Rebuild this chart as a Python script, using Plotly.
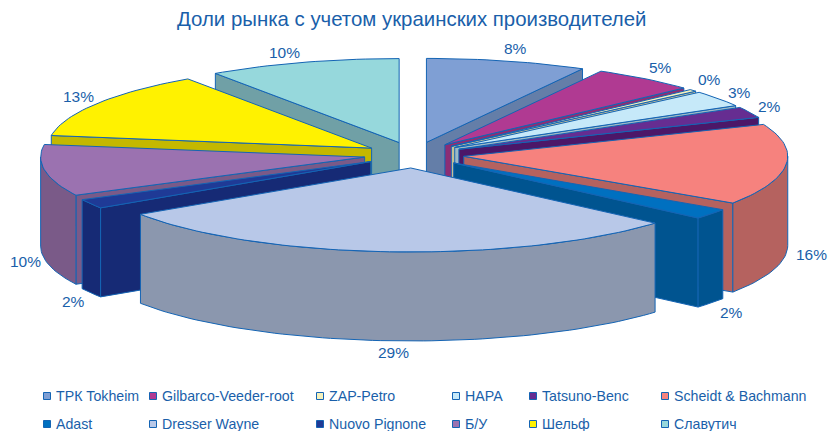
import math
import plotly.graph_objects as go

title = "Доли рынка с учетом украинских производителей"
categories = ["ТРК Tokheim", "Gilbarco-Veeder-root", "ZAP-Petro", "НАРА", "Tatsuno-Benc",
              "Scheidt & Bachmann", "Adast", "Dresser Wayne", "Nuovo Pignone", "Б/У", "Шельф", "Славутич"]
values = [8, 5.2, 0.4, 3.1, 2.1, 15.6, 2, 29.3, 1.8, 9.9, 13, 9.6]
top_colors = ["#7F9FD4", "#B03A92", "#F5F1BC", "#C6E9F9", "#662D91", "#F6827E",
              "#0070C0", "#B8C8E8", "#1F3A96", "#9B72B0", "#FFF200", "#96D8DC"]
side_colors = ["#647EA8", "#8C2E74", "#C4C096", "#9DB9C6", "#4C1768", "#B5625F",
               "#005490", "#8B97AE", "#162A75", "#7A5A88", "#C4B800", "#70A0A6"]

# Layout constants of the pseudo-3D pie (pixels)
W, H = 836, 431
CX, CY = 414, 155
RX, RY = 324, 84
PULL_X, PULL_Y = 50, 13
DEPTH = 89
LINE = "#1464B4"
TEXT = "#1A5FAA"
FONT = "Liberation Sans, Arial, sans-serif"
label_pos = [(515, 48), (660, 67), (709, 79), (739, 92), (769, 106), (811, 254),
             (731, 312), (393, 352), (73, 301), (25, 261), (78, 96), (284, 52)]
legend_cols = [47, 153, 320, 456, 533, 665]
legend_rows = [396, 424]

fig = go.Figure()


def poly(pts, color):
    xs = [p[0] for p in pts] + [pts[0][0]]
    ys = [p[1] for p in pts] + [pts[0][1]]
    fig.add_trace(go.Scatter(x=xs, y=ys, mode="lines", fill="toself", fillcolor=color,
                             line=dict(color=LINE, width=1), hoverinfo="skip", showlegend=False))


total = sum(values)
wedges = []
cum = 0
for i, v in enumerate(values):
    a1 = math.radians(cum / total * 360)
    cum += v
    a2 = math.radians(cum / total * 360)
    mid = (a1 + a2) / 2
    ax = CX + PULL_X * math.sin(mid)
    ay = CY - PULL_Y * math.cos(mid)
    wedges.append((math.cos(mid), i, a1, a2, ax, ay))

for _, i, a1, a2, ax, ay in sorted(wedges, key=lambda w: -w[0]):
    rim = lambda t, d=0: (ax + RX * math.sin(t), ay - RY * math.cos(t) + d)
    n = max(2, int((a2 - a1) / math.radians(1.5)) + 1)
    angles = [a1 + (a2 - a1) * k / (n - 1) for k in range(n)]
    # visible radial walls
    if math.sin(a1) < -1e-6:
        poly([(ax, ay), rim(a1), rim(a1, DEPTH), (ax, ay + DEPTH)], side_colors[i])
    if math.sin(a2) > 1e-6:
        poly([(ax, ay), rim(a2), rim(a2, DEPTH), (ax, ay + DEPTH)], side_colors[i])
    # visible part of the outer wall
    front = [t for t in angles if math.cos(t) <= 0]
    if len(front) >= 2:
        lo, hi = max(a1, math.pi / 2), min(a2, 3 * math.pi / 2)
        front = [lo] + [t for t in front if lo < t < hi] + [hi]
        poly([rim(t) for t in front] + [rim(t, DEPTH) for t in reversed(front)], side_colors[i])
    # top surface
    poly([(ax, ay)] + [rim(t) for t in angles], top_colors[i])

# Percent labels
annotations = [dict(x=x, y=y, text=f"{round(v)}%", showarrow=False, xref="x", yref="y",
                    font=dict(size=15.5, color=TEXT, family=FONT))
               for v, (x, y) in zip(values, label_pos)]

# Legend
for i, name in enumerate(categories):
    x = legend_cols[i % 6]
    y = legend_rows[i // 6]
    fig.add_trace(go.Scatter(x=[x], y=[y], mode="markers", hoverinfo="skip", showlegend=False,
                             marker=dict(symbol="square", size=7, color=top_colors[i],
                                         line=dict(color=LINE, width=1))))
    annotations.append(dict(x=x + 7, y=y, text=name, showarrow=False, xanchor="left", xref="x", yref="y",
                            font=dict(size=14.2, color=TEXT, family=FONT)))

annotations.append(dict(x=411, y=19, text=title, showarrow=False, xref="x", yref="y",
                        font=dict(size=20.4, color=TEXT, family=FONT)))

fig.update_layout(
    width=W, height=H, margin=dict(l=0, r=0, t=0, b=0),
    paper_bgcolor="white", plot_bgcolor="white", annotations=annotations,
    xaxis=dict(range=[0, W], visible=False, fixedrange=True),
    yaxis=dict(range=[H, 0], visible=False, fixedrange=True),
)
fig.write_html("out.html", config={"displayModeBar": False},
               post_script="document.body.style.margin='0';document.documentElement.style.overflow='hidden';")
